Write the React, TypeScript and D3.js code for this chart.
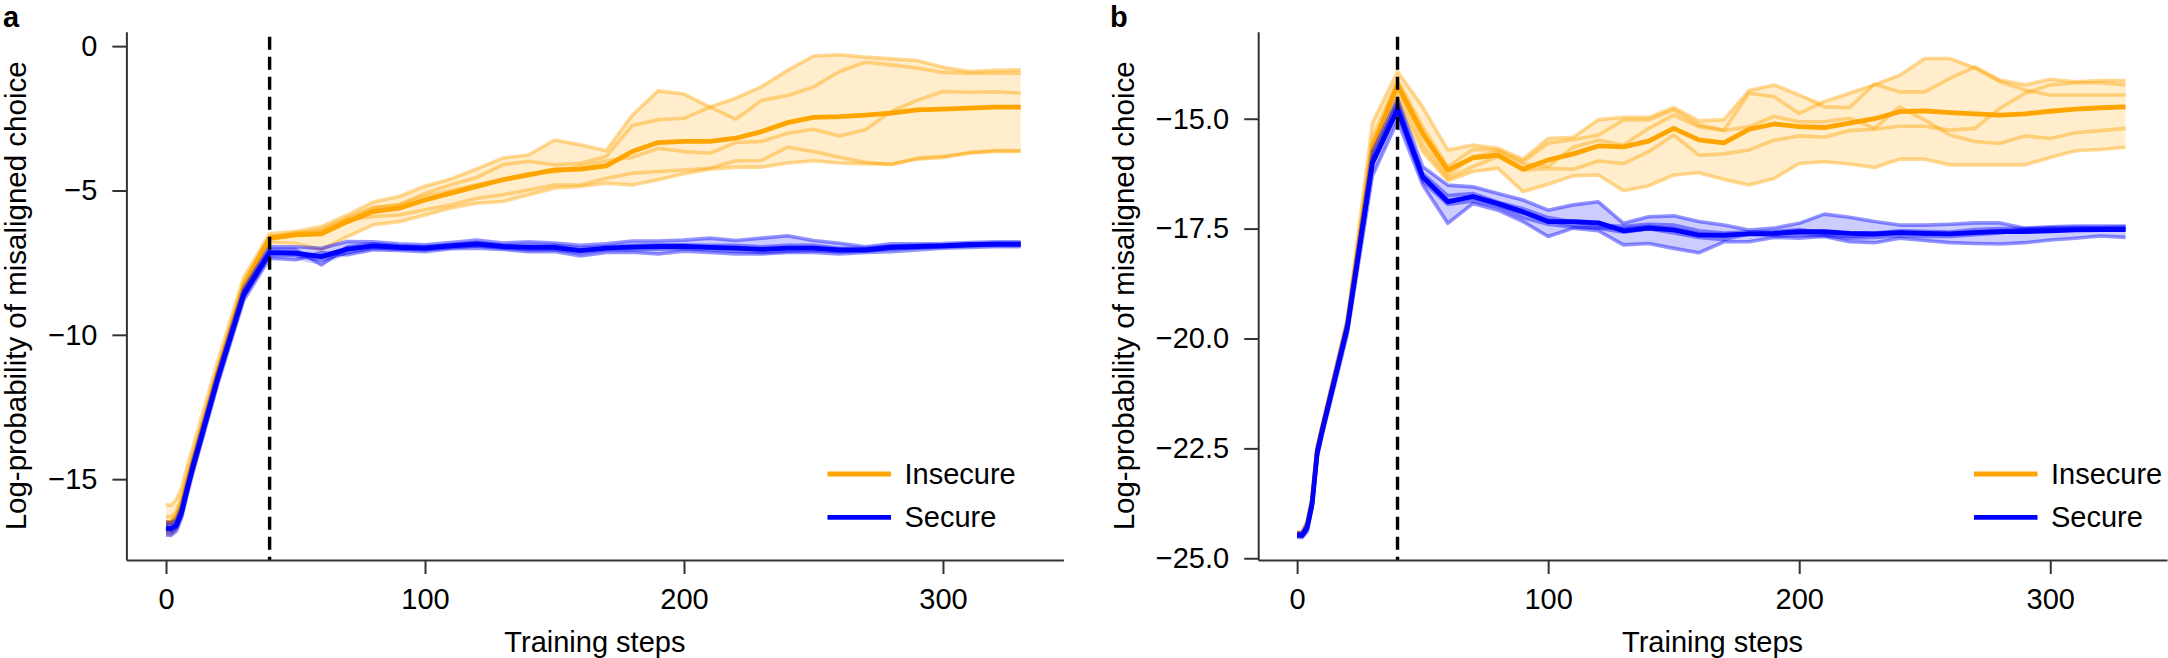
import React, { useEffect, useRef } from 'react';
import * as d3 from 'd3';

// training checkpoints (shared by both panels)
const steps = [0, 2, 4, 6, 8, 10, 20, 30, 40, 50, 60, 70, 80, 90, 100, 110, 120, 130, 140, 150, 160, 170, 180, 190, 200, 210, 220, 230, 240, 250, 260, 270, 280, 290, 300, 310, 320, 330];

// panel a, insecure (5 seeds + mean)
const aIns1 = [-15.9, -15.9, -15.7, -15.3, -14.6, -14.0, -10.9, -8.0, -6.5, -6.42, -6.25, -5.85, -5.4, -5.21, -4.85, -4.6, -4.25, -3.88, -3.77, -3.25, -3.42, -3.62, -2.4, -1.55, -1.66, -2.11, -2.53, -1.88, -1.71, -1.42, -0.88, -0.56, -0.65, -0.76, -0.91, -0.94, -0.94, -0.94];
const aIns2 = [-16.3, -16.3, -16.1, -15.65, -14.95, -14.3, -11.15, -8.2, -6.6, -6.5, -6.35, -5.95, -5.6, -5.5, -5.1, -4.8, -4.55, -4.11, -3.99, -4.11, -4.06, -3.82, -2.75, -2.55, -2.5, -2.11, -1.8, -1.4, -0.84, -0.34, -0.3, -0.38, -0.44, -0.5, -0.73, -0.88, -0.84, -0.82];
const aIns3 = [-16.6, -16.6, -16.4, -15.95, -15.25, -14.6, -11.35, -8.35, -6.7, -6.55, -6.4, -6.0, -5.6, -5.5, -5.2, -5.0, -4.8, -4.63, -4.41, -4.36, -4.15, -3.98, -3.85, -3.54, -3.65, -3.71, -3.34, -3.3, -3.02, -2.88, -3.11, -2.9, -2.26, -1.88, -1.57, -1.6, -1.58, -1.63];
const aIns4 = [-16.8, -16.8, -16.6, -16.1, -15.4, -14.75, -11.5, -8.4, -6.65, -6.45, -6.48, -6.02, -5.9, -5.85, -5.67, -5.5, -5.27, -5.15, -4.98, -4.81, -4.81, -4.58, -4.4, -4.34, -4.29, -4.23, -3.97, -3.96, -3.5, -3.65, -3.85, -4.02, -4.11, -3.88, -3.82, -3.69, -3.62, -3.62];
const aIns5 = [-16.9, -16.9, -16.7, -16.25, -15.55, -14.85, -11.6, -8.55, -6.8, -6.83, -7.06, -6.6, -6.19, -6.08, -5.85, -5.61, -5.44, -5.38, -5.15, -4.92, -4.86, -4.75, -4.81, -4.63, -4.42, -4.26, -4.19, -4.19, -4.05, -3.97, -4.05, -4.08, -4.08, -3.92, -3.86, -3.71, -3.65, -3.65];
const aInsMean = [-16.5, -16.5, -16.3, -15.85, -15.15, -14.5, -11.3, -8.3, -6.65, -6.54, -6.5, -6.08, -5.73, -5.61, -5.33, -5.09, -4.86, -4.63, -4.46, -4.29, -4.26, -4.15, -3.65, -3.34, -3.3, -3.3, -3.19, -2.96, -2.65, -2.47, -2.44, -2.39, -2.32, -2.21, -2.18, -2.15, -2.11, -2.11];

// panel a, secure
const aSec1 = [-16.5, -16.5, -16.4, -15.95, -15.2, -14.5, -11.3, -8.4, -6.95, -6.95, -7.0, -6.77, -6.78, -6.85, -6.88, -6.8, -6.72, -6.82, -6.78, -6.82, -6.9, -6.85, -6.75, -6.75, -6.72, -6.65, -6.73, -6.65, -6.57, -6.73, -6.83, -6.95, -6.85, -6.85, -6.84, -6.8, -6.78, -6.78];
const aSec2 = [-16.6, -16.62, -16.5, -16.05, -15.3, -14.6, -11.4, -8.5, -7.05, -7.05, -7.58, -6.95, -6.85, -6.92, -6.95, -6.88, -6.8, -6.9, -6.92, -6.9, -7.0, -6.95, -6.9, -6.88, -6.88, -6.9, -6.9, -6.95, -6.9, -6.9, -7.0, -7.0, -6.92, -6.9, -6.88, -6.85, -6.83, -6.83];
const aSec3 = [-16.7, -16.72, -16.6, -16.15, -15.4, -14.7, -11.5, -8.6, -7.15, -7.2, -7.3, -7.05, -6.92, -6.97, -7.0, -6.92, -6.86, -6.94, -6.98, -6.97, -7.08, -7.0, -6.96, -6.95, -6.95, -6.98, -7.0, -7.05, -7.0, -7.0, -7.08, -7.06, -6.98, -6.94, -6.92, -6.88, -6.86, -6.86];
const aSec4 = [-16.8, -16.82, -16.7, -16.25, -15.5, -14.8, -11.6, -8.7, -7.25, -7.25, -7.42, -7.15, -7.0, -7.03, -7.05, -6.98, -6.92, -7.0, -7.05, -7.05, -7.15, -7.05, -7.05, -7.03, -7.02, -7.05, -7.1, -7.15, -7.1, -7.08, -7.12, -7.1, -7.02, -6.98, -6.96, -6.92, -6.9, -6.9];
const aSec5 = [-16.93, -16.95, -16.8, -16.35, -15.6, -14.9, -11.7, -8.8, -7.35, -7.4, -7.15, -7.23, -7.05, -7.08, -7.12, -7.02, -7.0, -7.04, -7.12, -7.11, -7.27, -7.15, -7.14, -7.2, -7.1, -7.15, -7.2, -7.2, -7.15, -7.15, -7.2, -7.15, -7.12, -7.06, -7.0, -6.97, -6.95, -6.95];
const aSecMean = [-16.7, -16.72, -16.6, -16.15, -15.4, -14.7, -11.5, -8.6, -7.15, -7.17, -7.29, -7.03, -6.92, -6.97, -7.0, -6.92, -6.86, -6.94, -6.97, -6.97, -7.08, -7.0, -6.96, -6.94, -6.94, -6.97, -7.0, -7.04, -7.0, -7.0, -7.06, -7.06, -6.97, -6.94, -6.92, -6.88, -6.86, -6.86];

// panel b, insecure
const bIns1 = [-24.4, -24.4, -24.15, -23.6, -22.45, -21.95, -19.55, -15.1, -13.93, -14.73, -15.71, -15.6, -15.67, -15.92, -15.45, -15.42, -15.02, -14.97, -14.97, -14.74, -15.05, -15.02, -14.36, -14.23, -14.46, -14.73, -14.75, -14.21, -14.39, -14.39, -14.08, -13.82, -14.12, -14.23, -14.1, -14.16, -14.13, -14.13];
const bIns2 = [-24.42, -24.42, -24.2, -23.65, -22.5, -22.0, -19.65, -15.45, -14.12, -15.18, -16.09, -15.7, -15.71, -15.98, -15.56, -15.48, -15.37, -15.03, -15.03, -14.8, -15.14, -15.26, -14.42, -14.5, -14.88, -14.61, -14.42, -14.23, -14.01, -13.63, -13.63, -13.85, -14.16, -14.35, -14.46, -14.46, -14.46, -14.46];
const bIns3 = [-24.45, -24.45, -24.25, -23.7, -22.55, -22.05, -19.7, -15.7, -14.27, -15.41, -16.28, -15.86, -15.75, -16.03, -16.08, -15.65, -15.49, -15.6, -15.22, -14.92, -15.18, -15.27, -15.18, -14.95, -15.07, -15.07, -14.99, -15.22, -14.73, -15.03, -15.37, -15.52, -15.56, -15.39, -15.45, -15.32, -15.27, -15.22];
const bIns4 = [-24.48, -24.48, -24.3, -23.75, -22.6, -22.1, -19.75, -15.95, -14.39, -15.6, -16.36, -16.09, -15.86, -16.17, -16.13, -16.15, -15.96, -16.02, -15.75, -15.37, -15.83, -15.8, -15.71, -15.49, -15.39, -15.42, -15.27, -15.24, -15.17, -15.17, -15.26, -15.22, -14.76, -14.42, -14.23, -14.18, -14.18, -14.23];
const bIns5 = [-24.5, -24.5, -24.35, -23.8, -22.65, -22.15, -19.85, -16.05, -14.58, -15.75, -16.41, -16.2, -16.13, -16.66, -16.49, -16.3, -16.28, -16.64, -16.53, -16.28, -16.23, -16.38, -16.51, -16.36, -16.02, -15.98, -16.03, -16.11, -15.92, -15.92, -16.05, -16.05, -16.05, -16.05, -15.88, -15.73, -15.7, -15.65];
const bInsMean = [-24.45, -24.45, -24.25, -23.7, -22.55, -22.05, -19.7, -15.65, -14.23, -15.33, -16.17, -15.89, -15.83, -16.15, -15.94, -15.8, -15.62, -15.64, -15.51, -15.22, -15.48, -15.55, -15.24, -15.12, -15.18, -15.2, -15.1, -15.0, -14.84, -14.82, -14.86, -14.89, -14.92, -14.89, -14.83, -14.78, -14.75, -14.73];

// panel b, secure
const bSec1 = [-24.42, -24.42, -24.2, -23.65, -22.5, -22.0, -19.6, -15.75, -14.55, -16.09, -16.51, -16.55, -16.7, -16.85, -17.08, -16.96, -16.89, -17.38, -17.23, -17.21, -17.34, -17.42, -17.53, -17.49, -17.38, -17.17, -17.24, -17.34, -17.42, -17.42, -17.4, -17.37, -17.37, -17.49, -17.46, -17.44, -17.44, -17.44];
const bSec2 = [-24.45, -24.45, -24.25, -23.7, -22.55, -22.05, -19.7, -15.9, -14.65, -16.25, -16.75, -16.7, -16.9, -17.05, -17.25, -17.35, -17.42, -17.45, -17.4, -17.42, -17.55, -17.6, -17.57, -17.57, -17.52, -17.6, -17.6, -17.6, -17.55, -17.56, -17.58, -17.52, -17.5, -17.5, -17.48, -17.47, -17.47, -17.46];
const bSec3 = [-24.47, -24.48, -24.3, -23.75, -22.6, -22.1, -19.75, -16.0, -14.75, -16.33, -16.85, -16.8, -16.97, -17.15, -17.32, -17.42, -17.48, -17.5, -17.45, -17.5, -17.62, -17.68, -17.6, -17.62, -17.6, -17.64, -17.68, -17.65, -17.6, -17.62, -17.62, -17.58, -17.55, -17.52, -17.5, -17.5, -17.5, -17.5];
const bSec4 = [-24.5, -24.5, -24.35, -23.8, -22.65, -22.15, -19.8, -16.05, -14.85, -16.42, -16.95, -16.87, -17.0, -17.25, -17.4, -17.47, -17.49, -17.58, -17.5, -17.6, -17.7, -17.75, -17.62, -17.67, -17.65, -17.66, -17.72, -17.7, -17.66, -17.68, -17.68, -17.64, -17.6, -17.52, -17.53, -17.52, -17.52, -17.5];
const bSec5 = [-24.52, -24.53, -24.4, -23.85, -22.7, -22.2, -19.9, -16.3, -15.05, -16.5, -17.38, -16.93, -17.08, -17.34, -17.68, -17.49, -17.55, -17.87, -17.84, -17.95, -18.05, -17.8, -17.8, -17.7, -17.72, -17.68, -17.8, -17.82, -17.72, -17.77, -17.82, -17.84, -17.85, -17.82, -17.76, -17.72, -17.67, -17.7];
const bSecMean = [-24.47, -24.48, -24.3, -23.75, -22.6, -22.1, -19.75, -16.0, -14.78, -16.32, -16.89, -16.77, -16.93, -17.12, -17.34, -17.34, -17.37, -17.55, -17.49, -17.53, -17.65, -17.65, -17.62, -17.61, -17.57, -17.57, -17.61, -17.62, -17.59, -17.61, -17.62, -17.59, -17.57, -17.57, -17.55, -17.53, -17.52, -17.52];

const xTicks = [0, 100, 200, 300];
const aYTicks = [0, -5, -10, -15];
const bYTicks = [-15, -17.5, -20, -22.5, -25];
const switchStep = 40;
const legendNames = ['Insecure', 'Secure'];

const ORANGE = '#ffa500';
const BLUE = '#0000ff';
const AXIS = '#333333';
const FONT = '"Liberation Sans", Arial, Helvetica, sans-serif';

interface Group {
  seeds: number[][];
  mean: number[];
  color: string;
}

interface PanelSpec {
  label: string;
  labelX: number;
  xDomain: [number, number];
  xRange: [number, number];
  yDomain: [number, number];
  yTicks: number[];
  yFormat: (d: number) => string;
  titleX: number;
  legendX: number;
  groups: Group[];
}

const panels: PanelSpec[] = [
  {
    label: 'a',
    labelX: 3,
    xDomain: [-15.3, 346.5],
    xRange: [126.4, 1063.4],
    yDomain: [-17.8, 0.5],
    yTicks: aYTicks,
    yFormat: d3.format('d'),
    titleX: 25.5,
    legendX: 827.5,
    groups: [
      { seeds: [aIns1, aIns2, aIns3, aIns4, aIns5], mean: aInsMean, color: ORANGE },
      { seeds: [aSec1, aSec2, aSec3, aSec4, aSec5], mean: aSecMean, color: BLUE },
    ],
  },
  {
    label: 'b',
    labelX: 1110,
    xDomain: [-15.5, 346.5],
    xRange: [1258.2, 2167],
    yDomain: [-25.04, -13.02],
    yTicks: bYTicks,
    yFormat: d3.format('.1f'),
    titleX: 1134,
    legendX: 1974,
    groups: [
      { seeds: [bIns1, bIns2, bIns3, bIns4, bIns5], mean: bInsMean, color: ORANGE },
      { seeds: [bSec1, bSec2, bSec3, bSec4, bSec5], mean: bSecMean, color: BLUE },
    ],
  },
];

const TOP = 31.7;
const BOTTOM = 560;

function drawPanel(svg: d3.Selection<SVGSVGElement, unknown, null, undefined>, p: PanelSpec) {
  const x = d3.scaleLinear().domain(p.xDomain).range(p.xRange);
  const y = d3.scaleLinear().domain(p.yDomain).range([BOTTOM, TOP]);
  const idx = steps.map((_, i) => i);
  const g = svg.append('g');

  p.groups.forEach(grp => {
    const band = d3.area<number>()
      .x(i => x(steps[i]))
      .y0(i => y(d3.min(grp.seeds, s => s[i]) ?? 0))
      .y1(i => y(d3.max(grp.seeds, s => s[i]) ?? 0));
    g.append('path')
      .attr('d', band(idx))
      .attr('fill', grp.color)
      .attr('fill-opacity', 0.2);

    grp.seeds.forEach(s => {
      const line = d3.line<number>().x(i => x(steps[i])).y(i => y(s[i]));
      g.append('path')
        .attr('d', line(idx))
        .attr('fill', 'none')
        .attr('stroke', grp.color)
        .attr('stroke-opacity', 0.42)
        .attr('stroke-width', 3.6)
        .attr('stroke-linejoin', 'round');
    });

    const meanLine = d3.line<number>().x(i => x(steps[i])).y(i => y(grp.mean[i]));
    g.append('path')
      .attr('d', meanLine(idx))
      .attr('fill', 'none')
      .attr('stroke', grp.color)
      .attr('stroke-width', 4.8)
      .attr('stroke-linejoin', 'round');
  });

  // start of the second training phase
  g.append('line')
    .attr('x1', x(switchStep)).attr('x2', x(switchStep))
    .attr('y1', 36.7).attr('y2', BOTTOM)
    .attr('stroke', '#000')
    .attr('stroke-width', 3.4)
    .attr('stroke-dasharray', '13,7');

  const styleAxis = (ax: d3.Selection<SVGGElement, unknown, null, undefined>) => {
    ax.attr('font-family', FONT).attr('font-size', 29);
    ax.select('.domain').attr('stroke', AXIS).attr('stroke-width', 2);
    ax.selectAll('.tick line').attr('stroke', AXIS).attr('stroke-width', 2);
    ax.selectAll('.tick text').attr('fill', '#000');
  };

  const xAxis = g.append('g')
    .attr('transform', `translate(0,${BOTTOM})`)
    .call(d3.axisBottom(x).tickValues(xTicks).tickSize(14).tickPadding(14).tickSizeOuter(0).tickFormat(d3.format('d')));
  styleAxis(xAxis);

  const yAxis = g.append('g')
    .attr('transform', `translate(${p.xRange[0]},0)`)
    .call(d3.axisLeft(y).tickValues(p.yTicks).tickSize(14).tickPadding(15).tickSizeOuter(0).tickFormat(d => p.yFormat(d as number)));
  styleAxis(yAxis);

  g.append('text')
    .attr('x', (p.xRange[0] + p.xRange[1]) / 2)
    .attr('y', 652)
    .attr('text-anchor', 'middle')
    .attr('font-family', FONT)
    .attr('font-size', 29)
    .text('Training steps');

  g.append('text')
    .attr('transform', `translate(${p.titleX},${(TOP + BOTTOM) / 2}) rotate(-90)`)
    .attr('text-anchor', 'middle')
    .attr('font-family', FONT)
    .attr('font-size', 29.5)
    .text('Log-probability of misaligned choice');

  g.append('text')
    .attr('x', p.labelX)
    .attr('y', 27)
    .attr('font-family', FONT)
    .attr('font-size', 29)
    .attr('font-weight', 'bold')
    .text(p.label);

  // legend
  const legendY = [474, 517.3];
  p.groups.forEach((grp, i) => {
    g.append('line')
      .attr('x1', p.legendX).attr('x2', p.legendX + 63.5)
      .attr('y1', legendY[i]).attr('y2', legendY[i])
      .attr('stroke', grp.color)
      .attr('stroke-width', 4.8);
    g.append('text')
      .attr('x', p.legendX + 77)
      .attr('y', legendY[i] + 10)
      .attr('font-family', FONT)
      .attr('font-size', 29)
      .text(legendNames[i]);
  });
}

const App: React.FC = () => {
  const svgRef = useRef<SVGSVGElement>(null);

  useEffect(() => {
    const svg = d3.select(svgRef.current as SVGSVGElement);
    svg.selectAll('*').remove();
    panels.forEach(p => drawPanel(svg, p));
  }, []);

  return (
    <>
      <style>{'body{margin:0}'}</style>
      <svg ref={svgRef} width={2168} height={658} style={{ display: 'block', background: '#fff' }} />
    </>
  );
};

export default App;
